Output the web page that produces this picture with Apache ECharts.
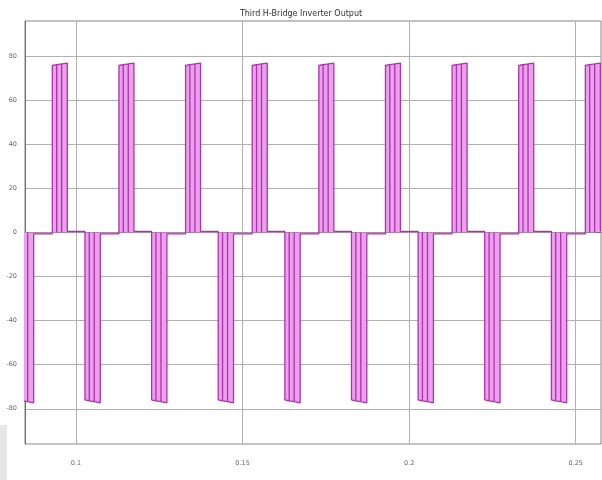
<!DOCTYPE html>
<html>
<head>
<meta charset="utf-8">
<title>Third H-Bridge Inverter Output</title>
<script src="https://cdn.jsdelivr.net/npm/echarts@6/dist/echarts.min.js"></script>
<style>
  html, body { margin: 0; padding: 0; background: #ffffff; }
  #chart { width: 602px; height: 480px; }
</style>
</head>
<body>
<div id="chart"></div>
<script>
// Switching edges of each positive pulse: [rise, notch 1, notch 2, fall] (s)
const posPulses = [
  [0.0929, 0.0942, 0.0957, 0.0974],
  [0.1129, 0.1142, 0.1157, 0.1174],
  [0.1329, 0.1342, 0.1357, 0.1374],
  [0.1529, 0.1542, 0.1557, 0.1574],
  [0.1729, 0.1742, 0.1757, 0.1774],
  [0.1929, 0.1942, 0.1957, 0.1974],
  [0.2129, 0.2142, 0.2157, 0.2174],
  [0.2329, 0.2342, 0.2357, 0.2374],
  [0.2529, 0.2542, 0.2557, 0.2574]
];
// Switching edges of each negative pulse (s)
const negPulses = [
  [0.0827, 0.0840, 0.0855, 0.0873],
  [0.1027, 0.1040, 0.1055, 0.1073],
  [0.1227, 0.1240, 0.1255, 0.1273],
  [0.1427, 0.1440, 0.1455, 0.1473],
  [0.1627, 0.1640, 0.1655, 0.1673],
  [0.1827, 0.1840, 0.1855, 0.1873],
  [0.2027, 0.2040, 0.2055, 0.2073],
  [0.2227, 0.2240, 0.2255, 0.2273],
  [0.2427, 0.2440, 0.2455, 0.2473]
];
// Voltage on the top of a pulse at each of its edges (V)
const posTops = [75.8, 76.2, 76.5, 76.9];
const negTops = [-76.0, -76.4, -76.8, -77.3];
// Residual voltage on the idle intervals (V)
const idleAfterPos = 0.5;
const idleAfterNeg = -0.6;

const xTicks = [0.1, 0.15, 0.2, 0.25];
const yTicks = [-80, -60, -40, -20, 0, 20, 40, 60, 80];

// Merge both pulse trains into one time-ordered waveform
const events = posPulses.map(e => ({ edges: e, tops: posTops, idle: idleAfterPos }))
  .concat(negPulses.map(e => ({ edges: e, tops: negTops, idle: idleAfterNeg })))
  .sort((a, b) => a.edges[0] - b.edges[0]);

const wave = [];
let idle = idleAfterPos;
events.forEach(ev => {
  const [r, n1, n2, f] = ev.edges;
  const t = ev.tops;
  wave.push([r, idle], [r, t[0]],
            [n1, t[1]], [n1, 0], [n1, t[1]],
            [n2, t[2]], [n2, 0], [n2, t[2]],
            [f, t[3]], [f, ev.idle]);
  idle = ev.idle;
});

const chart = echarts.init(document.getElementById('chart'), null, { renderer: 'canvas' });
const labelFont = { fontFamily: 'DejaVu Sans', fontSize: 6.5, color: '#666666' };

chart.setOption({
  animation: false,
  backgroundColor: '#ffffff',
  title: {
    text: 'Third H-Bridge Inverter Output',
    left: 'center',
    top: 5,
    textStyle: { fontFamily: 'Liberation Sans Narrow, DejaVu Sans', fontSize: 8, fontWeight: 'normal', color: '#333333' }
  },
  grid: {
    left: 25, right: 1, top: 21, bottom: 36,
    show: true, borderColor: '#858585', borderWidth: 1
  },
  xAxis: {
    type: 'value',
    min: 0.0847,
    max: 0.2576,
    axisLine: { show: true, lineStyle: { color: '#6f6f6f' } },
    axisTick: { show: false, customValues: xTicks },
    axisLabel: Object.assign({
      customValues: xTicks,
      margin: 16,
      formatter: v => String(v)
    }, labelFont),
    splitLine: { show: true, lineStyle: { color: '#b0b0b0', width: 1 } }
  },
  yAxis: {
    type: 'value',
    min: -96,
    max: 96,
    axisLine: { show: true, lineStyle: { color: '#6f6f6f' } },
    axisTick: { show: false, customValues: yTicks },
    axisLabel: Object.assign({
      customValues: yTicks,
      margin: 8
    }, labelFont),
    splitLine: { show: true, lineStyle: { color: '#b0b0b0', width: 1 } }
  },
  graphic: [{
    type: 'rect',
    shape: { x: 0, y: 425, width: 7, height: 55 },
    style: { fill: '#e6e6e6' },
    silent: true
  }],
  series: [{
    name: 'Vout',
    type: 'line',
    data: wave,
    showSymbol: false,
    clip: true,
    lineStyle: { color: '#a836a8', width: 1.3 },
    areaStyle: { color: '#ee9eee', opacity: 1 }
  }]
});
</script>
</body>
</html>
